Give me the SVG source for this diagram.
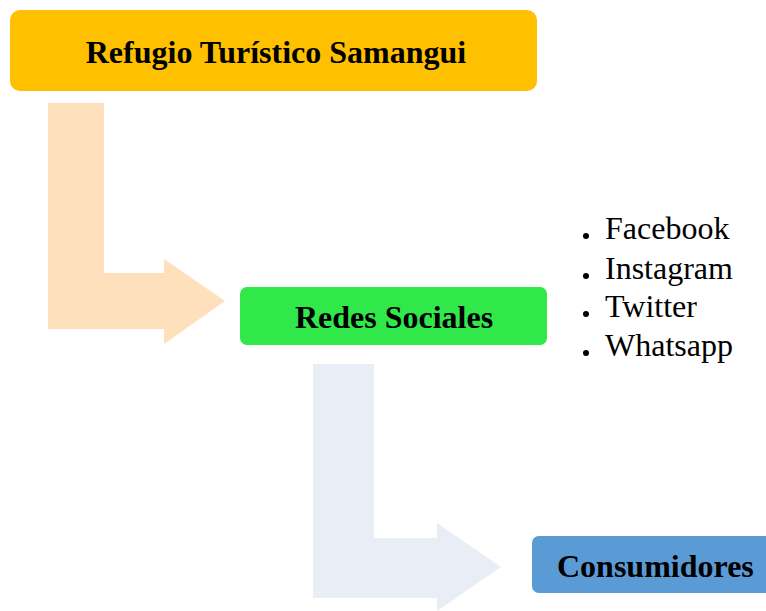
<svg xmlns="http://www.w3.org/2000/svg" width="766" height="611" viewBox="0 0 766 611">
<style>
.lbl{font-family:"Liberation Serif","Times New Roman",serif;font-size:32px;font-weight:bold;fill:#000}
.item{font-family:"Liberation Serif","Times New Roman",serif;font-size:32px;fill:#000}
</style>
<rect width="766" height="611" fill="#fff"/>
<g id="connectors">
<polygon id="arrow1" fill="#FFE0BC" points="48,103 104,103 104,273 164,273 164,259 225,301 164,344 164,329 48,329"/>
<polygon id="arrow2" fill="#E9EDF6" points="313,364 374,364 374,538 437,538 437,523 501,567 437,611 437,598 313,598"/>
</g>
<g id="node-refugio">
<rect x="10" y="10" width="527" height="81" rx="10" fill="#FFC000"/>
<text class="lbl" x="276" y="63" text-anchor="middle">Refugio Turístico Samangui</text>
</g>
<g id="node-redes">
<rect x="240" y="287" width="307" height="58" rx="7" fill="#31E84A"/>
<text class="lbl" x="394" y="328" text-anchor="middle">Redes Sociales</text>
</g>
<g id="node-list">
<circle cx="586" cy="236" r="3"/>
<text class="item" x="605" y="239">Facebook</text>
<circle cx="586" cy="276" r="3"/>
<text class="item" x="605" y="279">Instagram</text>
<circle cx="586" cy="314" r="3"/>
<text class="item" x="605" y="317">Twitter</text>
<circle cx="586" cy="353" r="3"/>
<text class="item" x="605" y="356">Whatsapp</text>
</g>
<g id="node-consumidores">
<rect x="532" y="536" width="244" height="57" rx="7" fill="#5B9BD5"/>
<text class="lbl" x="557" y="577">Consumidores</text>
</g>
</svg>
